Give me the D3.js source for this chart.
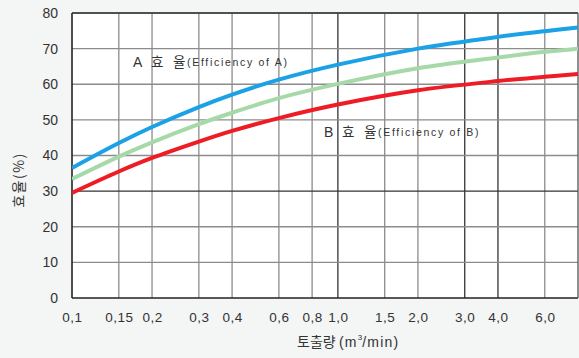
<!DOCTYPE html>
<html><head><meta charset="utf-8">
<script src="https://cdn.jsdelivr.net/npm/d3@7"></script>
<style>
html,body{margin:0;padding:0;background:#f4f5f5;}
svg{display:block;}
text{font-family:"Noto Sans CJK KR","Liberation Sans",Arial,sans-serif;fill:#333;}
</style></head><body>
<script>
const xTicks = [0.1, 0.15, 0.2, 0.3, 0.4, 0.6, 0.8, 1.0, 1.5, 2.0, 3.0, 4.0, 6.0];
const xTickLabels = ["0,1","0,15","0,2","0,3","0,4","0,6","0,8","1,0","1,5","2,0","3,0","4,0","6,0"];
const yTicks = [0,10,20,30,40,50,60,70,80];
const flow = [0.1, 0.15, 0.2, 0.3, 0.4, 0.6, 1.0, 2.0, 4.0, 6.0, 8.0];
const effA = [36.5, 43.5, 48.0, 53.6, 57.1, 61.3, 65.5, 70.0, 73.3, 74.9, 75.9];
const effMid = [33.4, 39.7, 43.7, 48.8, 52.0, 56.1, 60.1, 64.5, 67.5, 69.1, 70.0];
const effB = [29.5, 35.5, 39.3, 43.9, 46.9, 50.5, 54.3, 58.3, 60.9, 62.1, 62.9];

const W=579,H=358;
const m={l:72,r:1,t:13,b:60};
const svg=d3.select("body").append("svg").attr("width",W).attr("height",H);
const x=d3.scaleLog().domain([0.1,8]).range([m.l,W-m.r]);
const y=d3.scaleLinear().domain([0,80]).range([H-m.b,m.t]);

svg.append("rect").attr("x",m.l).attr("y",m.t).attr("width",W-m.r-m.l).attr("height",H-m.b-m.t).attr("fill","#fff");

// grid
svg.append("g").selectAll("line").data(xTicks.slice(1)).join("line")
  .attr("x1",d=>x(d)).attr("x2",d=>x(d)).attr("y1",m.t).attr("y2",H-m.b)
  .attr("stroke",d=>d===1.0||d===3.0||d===4.0?"#333":"#8c8c8c").attr("stroke-width",1.3);
svg.append("g").selectAll("line").data(yTicks.slice(1)).join("line")
  .attr("y1",d=>y(d)).attr("y2",d=>y(d)).attr("x1",m.l).attr("x2",W-m.r)
  .attr("stroke",d=>d===30?"#333":"#8c8c8c").attr("stroke-width",1.3);
// frame
svg.append("line").attr("x1",m.l).attr("x2",m.l).attr("y1",m.t).attr("y2",H-m.b).attr("stroke","#222").attr("stroke-width",1.6);
svg.append("line").attr("x1",m.l).attr("x2",W-m.r).attr("y1",H-m.b).attr("y2",H-m.b).attr("stroke","#222").attr("stroke-width",1.6);
svg.append("line").attr("x1",m.l).attr("x2",W-m.r).attr("y1",m.t).attr("y2",m.t).attr("stroke","#333").attr("stroke-width",1.3);
svg.append("line").attr("x1",W-m.r).attr("x2",W-m.r).attr("y1",m.t).attr("y2",H-m.b).attr("stroke","#555").attr("stroke-width",1.3);

// axes labels
const xAxis=d3.axisBottom(x).tickValues(xTicks).tickFormat((d,i)=>xTickLabels[i]).tickSize(0).tickPadding(14);
const gx=svg.append("g").attr("transform",`translate(0,${H-m.b})`).call(xAxis);
gx.select(".domain").remove();
gx.selectAll("text").attr("font-size",13.5).attr("fill","#333").attr("letter-spacing",0.5).style("font-family","Liberation Sans, Arial, sans-serif");

const yAxis=d3.axisLeft(y).tickValues(yTicks).tickSize(0).tickPadding(14);
const gy=svg.append("g").attr("transform",`translate(${m.l},0)`).call(yAxis);
gy.select(".domain").remove();
gy.selectAll("text").attr("font-size",14).attr("fill","#333").style("font-family","Liberation Sans, Arial, sans-serif");

// curves
const line=d3.line().x((d,i)=>x(flow[i])).y(d=>y(d)).curve(d3.curveCatmullRom.alpha(0.5));
svg.append("clipPath").attr("id","c").append("rect").attr("x",m.l).attr("y",m.t).attr("width",W-m.r-m.l).attr("height",H-m.b-m.t);
const series=[[effMid,"#a6d9a8"],[effB,"#ee1c24"],[effA,"#1ba1e6"]];
svg.append("g").attr("clip-path","url(#c)").selectAll("path").data(series).join("path")
  .attr("d",d=>line(d[0])).attr("fill","none").attr("stroke",d=>d[1]).attr("stroke-width",4);

// annotations
function label(xx,yy,letter,txt){
  const t=svg.append("text").attr("y",yy).attr("font-size",13.5).attr("dominant-baseline","middle");
  t.append("tspan").attr("x",xx).style("font-family","Liberation Sans, Arial, sans-serif").attr("font-size",14).text(letter);
  t.append("tspan").attr("x",xx+18).text("효");
  t.append("tspan").attr("x",xx+40).text("율");
  t.append("tspan").attr("x",xx+54).attr("font-size",10.5).attr("letter-spacing",1.7).style("font-family","Liberation Sans, Arial, sans-serif").text(txt);
}
label(133,63,"A","(Efficiency  of  A)");
label(324,133,"B","(Efficiency  of  B)");

svg.append("text").attr("transform","translate(20,180) rotate(-90)").attr("text-anchor","middle")
  .attr("dominant-baseline","middle").attr("font-size",14).attr("letter-spacing",1.5).text("효율(%)");
const xl=svg.append("text").attr("y",343).attr("font-size",14).attr("dominant-baseline","middle");
xl.append("tspan").attr("x",297).attr("letter-spacing",0).text("토출량");
xl.append("tspan").attr("x",339).attr("letter-spacing",1.2).style("font-family","Liberation Sans, Arial, sans-serif").text("(m");
xl.append("tspan").attr("font-size",8).attr("dy",-5).style("font-family","Liberation Sans, Arial, sans-serif").text("3");
xl.append("tspan").attr("dy",5).attr("letter-spacing",1.2).style("font-family","Liberation Sans, Arial, sans-serif").text("/min)");
</script>
</body></html>
